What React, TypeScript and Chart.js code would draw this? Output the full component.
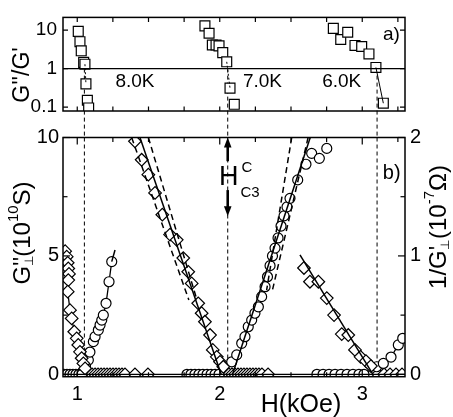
import React, { useEffect, useRef } from "react";
import { Chart, registerables } from "chart.js";
Chart.register(...registerables);

// ---------- layout constants ----------
const W = 453, H = 417;
const PANEL_A = { top: 8, bottom: 111 };
const PANEL_B = { top: 137.5, bottom: 376.7 };
const PLOT_LEFT = 63, PLOT_RIGHT = 405;
const FONT = '"Liberation Sans", Arial, Helvetica, sans-serif';

// ---------- axes ----------
const H_MIN = 0.9, H_MAX = 3.3;
const RATIO_MIN = 0.0791, RATIO_MAX = 21.4;
const G_MIN = -0.1, G_MAX = 10;
const R_MIN = -0.02, R_MAX = 2;
const hLabelTicks = [1, 2, 3];
const hAllTicks = [1, 1.25, 1.5, 1.75, 2, 2.25, 2.5, 2.75, 3, 3.25];
const ratioTicks = [0.1, 1, 10];
const gTicks = [0, 5, 10];
const gMinorTicks = [2.5, 7.5];
const rTicks = [0, 1, 2];
const rMinorTicks = [0.5, 1.5];
const hc3Fields = [1.05, 2.056, 3.104];

// ---------- panel a): G''/G' ----------
const ratio8H = [1.007, 1.019, 1.028, 1.045, 1.054, 1.061, 1.071, 1.080];
const ratio8V = [9.3, 5.0, 2.9, 1.45, 1.3, 0.4, 0.15, 0.095];
const ratio7H = [1.896, 1.925, 1.948, 1.974, 1.995, 2.021, 2.049, 2.072, 2.102];
const ratio7V = [12.9, 8.3, 4.1, 4.1, 3.9, 2.6, 1.5, 0.31, 0.118];
const ratio6H = [2.797, 2.849, 2.898, 2.949, 2.996, 3.047, 3.096, 3.148];
const ratio6V = [11.1, 5.7, 8.8, 4.0, 3.75, 2.4, 1.07, 0.126];
const tempLabels = ["8.0K", "7.0K", "6.0K"];
const tempLabelH = [1.405, 2.3, 2.856];
const tempLabelV = 0.454;

// ---------- panel b): G'' (left, diamonds) and 1/G' (right, circles) ----------
// 8.0 K
const d8H = [0.915, 0.926, 0.933, 0.937, 0.942, 0.937, 0.933, 0.949, 0.961, 0.979, 0.996, 1.007, 1.019, 1.031, 1.043, 1.055];
const d8G = [5.2, 4.97, 4.71, 4.47, 4.24, 3.98, 3.49, 2.71, 2.36, 1.8, 1.52, 1.24, 0.95, 0.68, 0.46, 0.25];
const c8H = [1.058, 1.078, 1.089, 1.113, 1.125, 1.148, 1.16, 1.172, 1.183, 1.202, 1.223, 1.242];
const c8R = [0.07, 0.12, 0.188, 0.276, 0.318, 0.374, 0.416, 0.458, 0.5, 0.6, 0.782, 0.952];
const z8CircleH = [0.907, 0.928, 0.949, 0.97, 0.991, 1.012, 1.033];
const z8DiamondH = [1.061, 1.082, 1.104, 1.125, 1.146, 1.167, 1.188, 1.209, 1.23, 1.251, 1.272, 1.293, 1.314, 1.335, 1.405, 1.496];
const fitC8H = [1.242, 1.265];
const fitC8R = [0.952, 1.05];
// 7.0 K
const d7H = [1.405, 1.452, 1.499, 1.546, 1.597, 1.651, 1.698, 1.744, 1.779, 1.803, 1.849, 1.873, 1.896, 1.932, 1.951, 1.979, 2.002, 2.025];
const d7G = [9.84, 9.06, 8.43, 7.66, 6.74, 5.9, 5.68, 4.91, 4.33, 3.84, 3.0, 2.58, 2.22, 1.66, 1.03, 0.74, 0.53, 0.32];
const c7H = [2.084, 2.119, 2.154, 2.177, 2.2, 2.224, 2.247, 2.271, 2.294, 2.318, 2.335, 2.353, 2.37, 2.388, 2.409, 2.43, 2.451, 2.472, 2.493, 2.547, 2.605, 2.645, 2.699, 2.751];
const c7R = [0.106, 0.164, 0.262, 0.318, 0.402, 0.458, 0.516, 0.57, 0.656, 0.74, 0.824, 0.918, 1.0, 1.066, 1.152, 1.252, 1.338, 1.414, 1.486, 1.642, 1.774, 1.866, 1.824, 1.908];
const z7CircleH = [1.77, 1.798, 1.826, 1.854, 1.882, 1.911, 1.939, 1.967, 1.995];
const z7DiamondH = [2.044, 2.065, 2.086, 2.107, 2.128, 2.149, 2.17, 2.191, 2.212, 2.233, 2.254, 2.275, 2.296, 2.339];
const fitD7H = [1.44, 2.01];
const fitD7G = [10, 0];
const dashD7aH = [1.382, 1.783];
const dashD7aG = [10, 3.14];
const dashD7bH = [1.499, 1.84];
const dashD7bG = [10, 3.14];
const fitC7H = [2.09, 2.635];
const fitC7R = [0, 2];
const dashC7aH = [2.505, 2.329];
const dashC7aR = [2, 0.712];
const dashC7bH = [2.62, 2.37];
const dashC7bR = [2, 0.712];
// 6.0 K
const d6H = [2.591, 2.633, 2.692, 2.751, 2.802, 2.856, 2.902, 2.949, 2.988, 3.026, 3.061];
const d6G = [4.49, 3.91, 3.91, 3.22, 2.5, 1.7, 1.66, 1.03, 0.74, 0.56, 0.35];
const c6H = [3.101, 3.148, 3.202, 3.253, 3.284];
const c6R = [0.064, 0.092, 0.146, 0.248, 0.304];
const z6CircleH = [2.682, 2.725, 2.767, 2.809, 2.851, 2.893, 2.935, 2.977, 3.012];
const z6DiamondH = [3.068, 3.111, 3.153, 3.195, 3.237, 3.279];
const fitD6H = [2.563, 3.075];
const fitD6G = [5.04, 0];

const panelBLabelH = 3.207, panelBLabelG = 8.49;
const panelALabelH = 3.205, panelALabelV = 7.6;
const hc3LabelG = 8.29;

// ---------- helpers ----------
const pts = (xs: number[], ys: number[]) => xs.map((x, i) => ({ x, y: ys[i] }));
const zeros = (xs: number[]) => xs.map((x) => ({ x, y: 0 }));

const marker = (style: string, r: number) => ({
  pointStyle: style,
  pointRadius: r,
  pointHoverRadius: r,
  pointBorderWidth: 1.2,
  pointBackgroundColor: "#fff",
  pointBorderColor: "#000",
  borderColor: "#000",
  backgroundColor: "#fff",
  clip: 0,
});
const diamond = (data: any[], line = false) => ({ data, showLine: line, borderWidth: 1.3, yAxisID: "y", ...marker("rectRot", 6.3) });
const circle = (data: any[], line = false) => ({ data, showLine: line, borderWidth: 1.3, yAxisID: "y1", ...marker("circle", 5) });
const lineDs = (data: any[], axis: string, dash: number[] = [], width = 1.5) => ({
  data, showLine: true, yAxisID: axis, borderColor: "#000", borderWidth: width, borderDash: dash,
  pointRadius: 0, pointHoverRadius: 0, clip: 0,
});

type Run = { t: string; size: number; dy?: number; adv?: boolean };
function drawRich(ctx: CanvasRenderingContext2D, runs: Run[], cx: number, cy: number, angle: number) {
  let total = 0;
  const widths = runs.map((r) => {
    ctx.font = `${r.size}px ${FONT}`;
    const w = ctx.measureText(r.t).width;
    if (r.adv !== false) total += w;
    return w;
  });
  ctx.save();
  ctx.translate(cx, cy);
  ctx.rotate(angle);
  ctx.fillStyle = "#000";
  ctx.textBaseline = "middle";
  ctx.textAlign = "left";
  let x = -total / 2;
  runs.forEach((r, i) => {
    ctx.font = `${r.size}px ${FONT}`;
    ctx.fillText(r.t, x, r.dy || 0);
    if (r.adv !== false) x += widths[i];
  });
  ctx.restore();
}

function frame(ctx: CanvasRenderingContext2D, a: any) {
  ctx.save();
  ctx.strokeStyle = "#000";
  ctx.lineWidth = 1.5;
  ctx.setLineDash([]);
  ctx.strokeRect(a.left, a.top, a.right - a.left, a.bottom - a.top);
  ctx.restore();
}
function xTicks(ctx: CanvasRenderingContext2D, a: any, s: any, vals: number[], major: number[]) {
  ctx.save();
  ctx.strokeStyle = "#000";
  ctx.lineWidth = 1.2;
  vals.forEach((v) => {
    const p = s.getPixelForValue(v);
    const len = major.includes(v) ? 7 : 4.5;
    ctx.beginPath();
    ctx.moveTo(p, a.top); ctx.lineTo(p, a.top + len);
    ctx.moveTo(p, a.bottom); ctx.lineTo(p, a.bottom - len);
    ctx.stroke();
  });
  ctx.restore();
}
function yTicks(ctx: CanvasRenderingContext2D, a: any, s: any, vals: number[], len: number, side: "left" | "right" | "both") {
  ctx.save();
  ctx.strokeStyle = "#000";
  ctx.lineWidth = 1.2;
  vals.forEach((v) => {
    const p = s.getPixelForValue(v);
    ctx.beginPath();
    if (side !== "right") { ctx.moveTo(a.left, p); ctx.lineTo(a.left + len, p); }
    if (side !== "left") { ctx.moveTo(a.right, p); ctx.lineTo(a.right - len, p); }
    ctx.stroke();
  });
  ctx.restore();
}
function arrow(ctx: CanvasRenderingContext2D, x: number, from: number, tip: number) {
  const dir = Math.sign(tip - from);
  ctx.save();
  ctx.strokeStyle = "#000";
  ctx.fillStyle = "#000";
  ctx.lineWidth = 2.6;
  ctx.setLineDash([]);
  ctx.beginPath();
  ctx.moveTo(x, from); ctx.lineTo(x, tip - dir * 6);
  ctx.stroke();
  ctx.beginPath();
  ctx.moveTo(x, tip); ctx.lineTo(x - 3.8, tip - dir * 10); ctx.lineTo(x + 3.8, tip - dir * 10);
  ctx.closePath();
  ctx.fill();
  ctx.restore();
}
function dashedV(ctx: CanvasRenderingContext2D, x: number, y0: number, y1: number) {
  ctx.save();
  ctx.strokeStyle = "#000";
  ctx.lineWidth = 1;
  ctx.setLineDash([4, 3]);
  ctx.beginPath(); ctx.moveTo(x, y0); ctx.lineTo(x, y1); ctx.stroke();
  ctx.restore();
}

const tickFont = (size: number) => ({ family: FONT, size });

// ---------- top chart ----------
function topConfig(): any {
  const squares = (h: number[], v: number[]) => ({ data: pts(h, v), showLine: false, ...marker("rect", 7) });
  return {
    type: "scatter",
    data: {
      datasets: [
        lineDs(pts([H_MIN, H_MAX], [1, 1]), "y", [], 1.2),
        lineDs(pts(ratio8H.slice(4, 6), ratio8V.slice(4, 6)), "y", [2, 2], 1),
        lineDs(pts(ratio7H.slice(6, 8), ratio7V.slice(6, 8)), "y", [2, 2], 1),
        lineDs(pts(ratio6H.slice(6, 8), ratio6V.slice(6, 8)), "y", [], 1),
        squares(ratio8H, ratio8V),
        squares(ratio7H, ratio7V),
        squares(ratio6H, ratio6V),
      ],
    },
    options: {
      responsive: false,
      animation: false,
      events: [],
      layout: { padding: { left: 0, right: W - PLOT_RIGHT, top: PANEL_A.top, bottom: H - PANEL_A.bottom } },
      plugins: { legend: { display: false }, tooltip: { enabled: false } },
      scales: {
        x: { type: "linear", min: H_MIN, max: H_MAX, bounds: "data", display: false },
        y: {
          type: "logarithmic", min: RATIO_MIN, max: RATIO_MAX, bounds: "data", position: "left",
          grid: { display: false, drawTicks: false }, border: { display: false },
          ticks: { font: tickFont(19), color: "#000", padding: 6, callback: (v: number) => String(v) },
          afterBuildTicks: (s: any) => { s.ticks = ratioTicks.map((value) => ({ value })); },
          afterFit: (s: any) => { s.width = PLOT_LEFT; },
        },
      },
    },
    plugins: [
      {
        id: "topDecor",
        beforeDatasetsDraw(chart: any) {
          const { ctx, scales } = chart;
          hc3Fields.forEach((h) => dashedV(ctx, scales.x.getPixelForValue(h), scales.y.getPixelForValue(1), PANEL_B.top));
        },
        afterDatasetsDraw(chart: any) {
          const { ctx, chartArea: a, scales } = chart;
          frame(ctx, a);
          xTicks(ctx, a, scales.x, hAllTicks, []);
          yTicks(ctx, a, scales.y, ratioTicks, 5, "both");
          ctx.save();
          ctx.fillStyle = "#000";
          ctx.textAlign = "center";
          ctx.textBaseline = "middle";
          ctx.font = `19px ${FONT}`;
          tempLabels.forEach((t, i) => ctx.fillText(t, scales.x.getPixelForValue(tempLabelH[i]), scales.y.getPixelForValue(tempLabelV)));
          ctx.fillText("a)", scales.x.getPixelForValue(panelALabelH), scales.y.getPixelForValue(panelALabelV));
          ctx.restore();
          drawRich(ctx, [{ t: "G''/G'", size: 23 }], 23, 75, -Math.PI / 2);
        },
      },
    ],
  };
}

// ---------- bottom chart ----------
function bottomConfig(): any {
  return {
    type: "scatter",
    data: {
      datasets: [
        lineDs(pts(fitD7H, fitD7G), "y"),
        lineDs(pts(dashD7aH, dashD7aG), "y", [6, 4]),
        lineDs(pts(dashD7bH, dashD7bG), "y", [6, 4]),
        lineDs(pts(fitC7H, fitC7R), "y1"),
        lineDs(pts(dashC7aH, dashC7aR), "y1", [6, 4]),
        lineDs(pts(dashC7bH, dashC7bR), "y1", [6, 4]),
        lineDs(pts(fitD6H, fitD6G), "y"),
        lineDs(pts(fitC8H, fitC8R), "y1"),
        lineDs(pts([H_MIN, H_MAX], [0, 0]), "y", [], 1.2),
        diamond(pts(d8H, d8G), true),
        circle(pts(c8H, c8R), true),
        diamond(pts(d7H, d7G)),
        circle(pts(c7H, c7R)),
        diamond(pts(d6H, d6G)),
        circle(pts(c6H, c6R), true),
        circle(zeros(z8CircleH)),
        diamond(zeros(z8DiamondH)),
        circle(zeros(z7CircleH)),
        diamond(zeros(z7DiamondH)),
        circle(zeros(z6CircleH)),
        diamond(zeros(z6DiamondH)),
      ],
    },
    options: {
      responsive: false,
      animation: false,
      events: [],
      layout: { padding: { left: 0, right: 0, top: PANEL_B.top, bottom: 0 } },
      plugins: { legend: { display: false }, tooltip: { enabled: false } },
      scales: {
        x: {
          type: "linear", min: H_MIN, max: H_MAX, bounds: "data", position: "bottom",
          grid: { display: false, drawTicks: false }, border: { display: false },
          ticks: { font: tickFont(20), color: "#000", padding: 6, maxRotation: 0, autoSkip: false },
          afterBuildTicks: (s: any) => { s.ticks = hLabelTicks.map((value) => ({ value })); },
          afterFit: (s: any) => { s.height = H - PANEL_B.bottom; },
        },
        y: {
          type: "linear", min: G_MIN, max: G_MAX, bounds: "data", position: "left",
          grid: { display: false, drawTicks: false }, border: { display: false },
          ticks: { font: tickFont(20), color: "#000", padding: 4 },
          afterBuildTicks: (s: any) => { s.ticks = gTicks.map((value) => ({ value })); },
          afterFit: (s: any) => { s.width = PLOT_LEFT; },
        },
        y1: {
          type: "linear", min: R_MIN, max: R_MAX, bounds: "data", position: "right",
          grid: { display: false, drawTicks: false }, border: { display: false },
          ticks: { font: tickFont(20), color: "#000", padding: 5 },
          afterBuildTicks: (s: any) => { s.ticks = rTicks.map((value) => ({ value })); },
          afterFit: (s: any) => { s.width = W - PLOT_RIGHT; },
        },
      },
    },
    plugins: [
      {
        id: "bottomDecor",
        beforeDatasetsDraw(chart: any) {
          const { ctx, chartArea: a, scales } = chart;
          hc3Fields.forEach((h) => dashedV(ctx, scales.x.getPixelForValue(h), a.top, scales.y.getPixelForValue(0)));
        },
        afterDatasetsDraw(chart: any) {
          const { ctx, chartArea: a, scales } = chart;
          const { x, y, y1 } = scales;
          frame(ctx, a);
          xTicks(ctx, a, x, hAllTicks, hLabelTicks);
          yTicks(ctx, a, y, gTicks, 7, "left");
          yTicks(ctx, a, y, gMinorTicks, 4.5, "left");
          yTicks(ctx, a, y1, rTicks, 7, "right");
          yTicks(ctx, a, y1, rMinorTicks, 4.5, "right");
          // Hc3 marker
          const ax = x.getPixelForValue(hc3Fields[1]);
          arrow(ctx, ax, y.getPixelForValue(9.0), y.getPixelForValue(10));
          arrow(ctx, ax, y.getPixelForValue(7.78), y.getPixelForValue(6.68));
          ctx.save();
          ctx.fillStyle = "#000";
          ctx.textBaseline = "middle";
          ctx.textAlign = "center";
          ctx.font = `27px ${FONT}`;
          const hy = y.getPixelForValue(hc3LabelG);
          const hw = ctx.measureText("H").width;
          ctx.fillText("H", ax + 1, hy);
          ctx.textAlign = "left";
          ctx.font = `15px ${FONT}`;
          ctx.fillText("C", ax + 1 + hw / 2 + 3, hy - 10);
          ctx.fillText("C3", ax + 1 + hw / 2 + 2, hy + 15);
          ctx.textAlign = "center";
          ctx.font = `20px ${FONT}`;
          ctx.fillText("b)", x.getPixelForValue(panelBLabelH), y.getPixelForValue(panelBLabelG));
          // x title
          ctx.font = `25px ${FONT}`;
          ctx.fillText("H(kOe)", 301, 405);
          ctx.restore();
          drawRich(ctx, [
            { t: "G", size: 24 },
            { t: "⊥", size: 12, dy: 7, adv: false },
            { t: "''(10", size: 24 },
            { t: "10", size: 15, dy: -9 },
            { t: "S)", size: 24 },
          ], 23, 233, -Math.PI / 2);
          drawRich(ctx, [
            { t: "1/G", size: 24 },
            { t: "⊥", size: 12, dy: 7, adv: false },
            { t: "' ", size: 24 },
            { t: "(10", size: 24 },
            { t: "-7", size: 15, dy: -9 },
            { t: "Ω)", size: 24 },
          ], 439, 227, -Math.PI / 2);
        },
      },
    ],
  };
}

export default function App() {
  const topRef = useRef<HTMLCanvasElement>(null);
  const botRef = useRef<HTMLCanvasElement>(null);
  useEffect(() => {
    const bot = new Chart(botRef.current as HTMLCanvasElement, bottomConfig());
    const top = new Chart(topRef.current as HTMLCanvasElement, topConfig());
    return () => { top.destroy(); bot.destroy(); };
  }, []);
  return (
    <div style={{ position: "absolute", left: 0, top: 0, width: W, height: H, background: "#fff" }}>
      <canvas ref={botRef} width={W} height={H} style={{ position: "absolute", left: 0, top: 0 }} />
      <canvas ref={topRef} width={W} height={H} style={{ position: "absolute", left: 0, top: 0 }} />
    </div>
  );
}
